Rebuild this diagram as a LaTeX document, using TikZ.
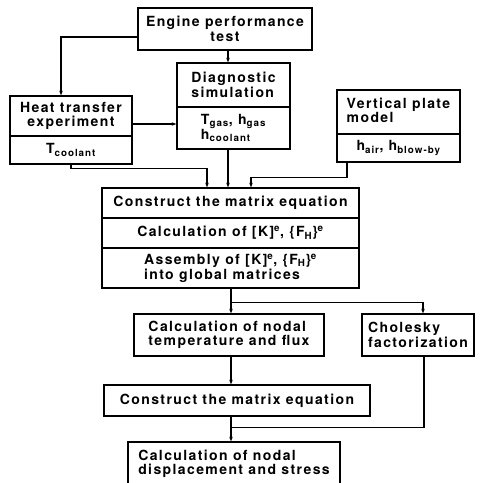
\documentclass[tikz,border=0pt]{standalone}
\usepackage{fontspec}
\setmainfont{TeX Gyre Heros}[LetterSpace=10]
\usetikzlibrary{arrows.meta}

\tikzset{
  box/.style={draw, line width=1.4pt, inner sep=1pt, align=center,
    font=\fontsize{14}{14.5}\selectfont\bfseries},
  link/.style={-{Stealth[length=4.5pt,width=3.5pt]}, line width=1.1pt},
  joint/.style={line width=1.1pt}
}

\begin{document}
\begin{tikzpicture}[x=1pt,y=-1pt]
\clip (0,0) rectangle (482,483);

% Input blocks
\node[box,minimum width=174pt,minimum height=42pt] (eng) at (225,29) {Engine performance\\test};
\node[box,minimum width=113pt,minimum height=44pt,align=left] (ds) at (233.5,85) {Diagnostic\\simulation};
\node[box,minimum width=113pt,minimum height=42pt,align=left] (dsout) at (233.5,128) {T\textsubscript{gas}, h\textsubscript{gas}\\h\textsubscript{coolant}};
\node[box,minimum width=122pt,minimum height=40pt] (ht) at (71,116) {Heat transfer\\experiment};
\node[box,minimum width=122pt,minimum height=28pt] (htout) at (71,150) {T\textsubscript{coolant}};
\node[box,minimum width=123pt,minimum height=44pt,align=left] (vp) at (398.5,112) {Vertical plate\\model\phantom{ plate}};
\node[box,minimum width=123pt,minimum height=28pt] (vpout) at (398.5,148) {h\textsubscript{air}, h\textsubscript{blow-by}};

% Matrix blocks
\node[box,minimum width=257pt,minimum height=30pt] (cm) at (230.5,203) {Construct the matrix equation};
\node[box,minimum width=257pt,minimum height=30pt] (calc) at (230.5,233) {Calculation of [K]\textsuperscript{e}, \{F\textsubscript{H}\}\textsuperscript{e}};
\node[box,minimum width=257pt,minimum height=40pt,align=left] (asm) at (230.5,268) {Assembly of [K]\textsuperscript{e}, \{F\textsubscript{H}\}\textsuperscript{e}\\into global matrices};

% Solution blocks
\node[box,minimum width=190pt,minimum height=42pt,align=left] (temp) at (229,335) {Calculation of nodal\\temperature and flux};
\node[box,minimum width=112pt,minimum height=42pt,align=left] (chol) at (418,335) {Cholesky\\factorization};
\node[box,minimum width=266pt,minimum height=31pt] (cm2) at (237,400.5) {Construct the matrix equation};
\node[box,minimum width=212pt,minimum height=44pt,align=left] (disp) at (234,464) {Calculation of nodal\\displacement and stress};

% Connectors
\draw[link] ([yshift=-8pt]eng.west) -| ([xshift=-10pt]ht.north);
\draw[link] ([xshift=3pt]eng.south) -- ([xshift=3pt]eng.south |- ds.north);
\draw[link] ([yshift=-8pt]ht.east) -- ([yshift=-8pt]ht.east -| ds.west);
\draw[link] (htout.south) -- ++(0,4) -| ([xshift=-23.5pt]cm.north);
\draw[link] ([xshift=-5.5pt]dsout.south) -- ([xshift=-5.5pt]dsout.south |- cm.north);
\draw[link] ([xshift=-51.5pt]vpout.south) -- ++(0,15) -| ([xshift=20.5pt]cm.north);
\coordinate (split) at ([xshift=0.5pt,yshift=-14pt]asm.south);
\draw[link] ([xshift=0.5pt]asm.south) -- (split) -- (split |- temp.north);
\draw[link] (split) -| ([xshift=5pt]chol.north);
\draw[link] ([xshift=2pt]temp.south) -- ([xshift=2pt]temp.south |- cm2.north);
\coordinate (merge) at ([xshift=-6pt,yshift=-11pt]cm2.south);
\draw[link] ([xshift=-6pt]cm2.south) -- ([xshift=-6pt]cm2.south |- disp.north);
\draw[joint] ([xshift=6pt]chol.south) |- (merge);
\end{tikzpicture}
\end{document}
